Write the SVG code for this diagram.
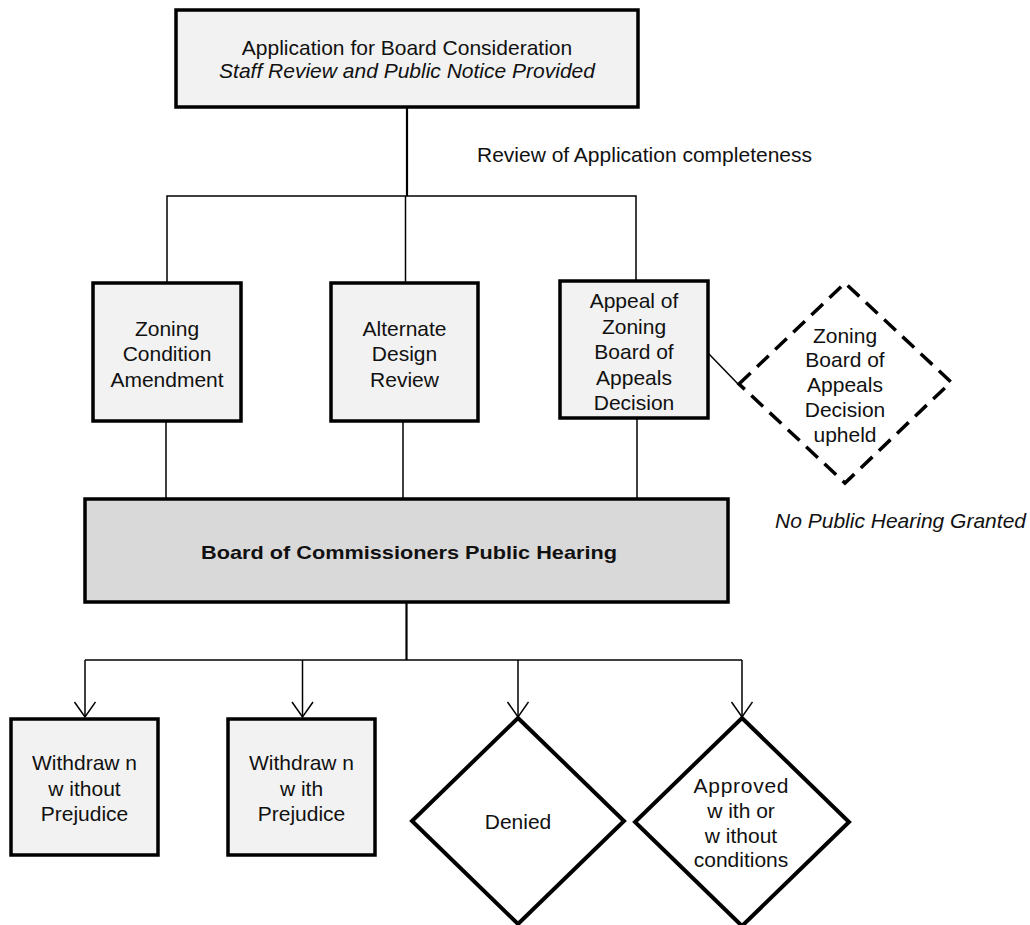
<svg xmlns="http://www.w3.org/2000/svg" width="1030" height="925" viewBox="0 0 1030 925">
<defs>
<style>
text{font-family:"Liberation Sans",Arial,sans-serif;font-size:21px;fill:#111;text-anchor:middle}
.it{font-style:italic}
.b{font-weight:bold}
.box{fill:#f2f2f2;stroke:#000;stroke-width:3.5}
.main{fill:#d9d9d9;stroke:#000;stroke-width:3.5}
.dia{fill:#fff;stroke:#000;stroke-width:4;stroke-linejoin:miter}
.dash{fill:#fff;stroke:#000;stroke-width:3.5;stroke-dasharray:16 9}
.ln{fill:none;stroke:#000;stroke-width:1.5}
.thk{fill:none;stroke:#000;stroke-width:2.2}
</style>
<marker id="arr" markerUnits="userSpaceOnUse" markerWidth="20" markerHeight="24" refX="16" refY="11" orient="auto" viewBox="0 0 20 24">
<path d="M1,0.5 L16,11 L1,21.5" fill="none" stroke="#000" stroke-width="1.5"/>
</marker>
</defs>
<g id="connectors">
<line class="thk" x1="407" y1="107" x2="407" y2="196"/>
<polyline class="ln" points="167,283 167,196 636,196 636,281"/>
<line class="ln" x1="405.5" y1="196" x2="405.5" y2="283"/>
<line class="ln" x1="166" y1="421" x2="166" y2="499"/>
<line class="ln" x1="403" y1="421" x2="403" y2="499"/>
<line class="ln" x1="637" y1="418" x2="637" y2="499"/>
<line class="ln" x1="708" y1="353" x2="739" y2="385"/>
<line class="thk" x1="406.5" y1="602" x2="406.5" y2="660"/>
<line class="ln" x1="85" y1="660" x2="742" y2="660"/>
<line class="ln" x1="85" y1="660" x2="85" y2="717" marker-end="url(#arr)"/>
<line class="ln" x1="302.5" y1="660" x2="302.5" y2="717" marker-end="url(#arr)"/>
<line class="ln" x1="518" y1="660" x2="518" y2="717" marker-end="url(#arr)"/>
<line class="ln" x1="742" y1="660" x2="742" y2="717" marker-end="url(#arr)"/>
</g>
<g id="n-application">
<rect class="box" x="176" y="10" width="462" height="97"/>
<text x="407" y="55">Application for Board Consideration</text>
<text class="it" x="407" y="78">Staff Review and Public Notice Provided</text>
</g>
<g id="l-review">
<text x="812" y="162" style="text-anchor:end">Review of Application completeness</text>
</g>
<g id="n-zoning-condition">
<rect class="box" x="93" y="283" width="148" height="138"/>
<text x="167" y="336">Zoning</text>
<text x="167" y="361">Condition</text>
<text x="167" y="387">Amendment</text>
</g>
<g id="n-alternate-design">
<rect class="box" x="331" y="283" width="147" height="138"/>
<text x="404.5" y="336">Alternate</text>
<text x="404.5" y="361">Design</text>
<text x="404.5" y="387">Review</text>
</g>
<g id="n-appeal">
<rect class="box" x="560" y="281" width="148" height="137"/>
<text x="634" y="308">Appeal of</text>
<text x="634" y="333.5">Zoning</text>
<text x="634" y="359">Board of</text>
<text x="634" y="384.5">Appeals</text>
<text x="634" y="410">Decision</text>
</g>
<g id="n-upheld">
<path class="dash" d="M739,384 L845,283 L951,382 L845,483 Z"/>
<text x="845" y="343">Zoning</text>
<text x="845" y="367">Board of</text>
<text x="845" y="392">Appeals</text>
<text x="845" y="417">Decision</text>
<text x="845" y="442">upheld</text>
</g>
<g id="l-nohearing">
<text class="it" x="1026" y="528" style="text-anchor:end">No Public Hearing Granted</text>
</g>
<g id="n-board">
<rect class="main" x="85" y="499" width="643" height="103"/>
<text class="b" x="409" y="559" style="font-size:19px" textLength="416" lengthAdjust="spacingAndGlyphs">Board of Commissioners Public Hearing</text>
</g>
<g id="n-withdrawn-without">
<rect class="box" x="11" y="719" width="147" height="136"/>
<text x="84.5" y="770">Withdraw n</text>
<text x="84.5" y="796">w ithout</text>
<text x="84.5" y="821">Prejudice</text>
</g>
<g id="n-withdrawn-with">
<rect class="box" x="228" y="719" width="147" height="136"/>
<text x="301.5" y="770">Withdraw n</text>
<text x="301.5" y="796">w ith</text>
<text x="301.5" y="821">Prejudice</text>
</g>
<g id="n-denied">
<path class="dia" d="M518,718 L624,821 L518,924 L412,821 Z"/>
<text x="518" y="829">Denied</text>
</g>
<g id="n-approved">
<path class="dia" d="M742,718 L849,822 L742,926 L635,822 Z"/>
<text x="741" y="793" textLength="95" lengthAdjust="spacing">Approved</text>
<text x="741" y="818">w ith or</text>
<text x="741" y="843">w ithout</text>
<text x="741" y="867">conditions</text>
</g>
</svg>
